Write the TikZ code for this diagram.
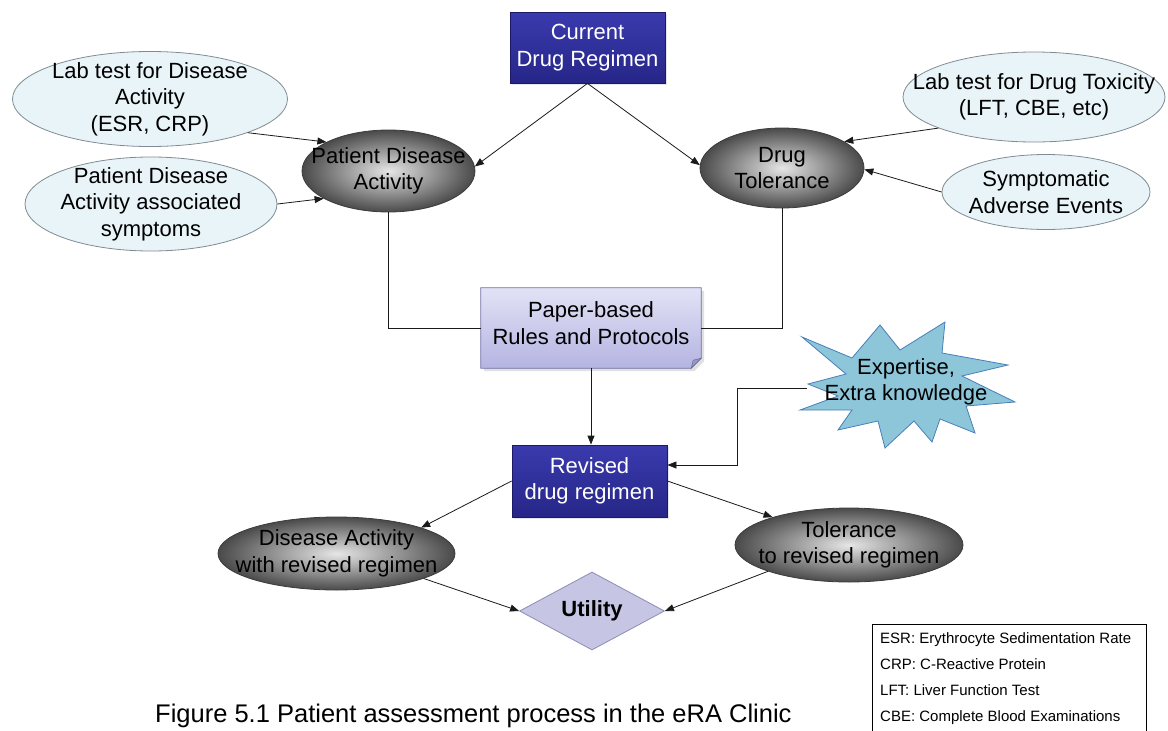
\documentclass[tikz,border=0pt]{standalone}
\usepackage{fontspec}
\setmainfont{Liberation Sans}
\usetikzlibrary{shapes.geometric,arrows.meta,shadows,backgrounds}

\definecolor{linecol}{HTML}{1A1A1A}
\definecolor{lightfill}{HTML}{E9F4F8}
\definecolor{lightedge}{HTML}{7F8C94}
\definecolor{grayedge}{HTML}{3C3C3C}
\definecolor{graylight}{HTML}{E6E6E6}
\definecolor{graydark}{HTML}{4A4A4A}
\definecolor{regtop}{HTML}{3A3AAE}
\definecolor{regbot}{HTML}{262688}
\definecolor{regedge}{HTML}{1A1A66}
\definecolor{papertop}{HTML}{E2E2F6}
\definecolor{paperbot}{HTML}{B4B4E2}
\definecolor{paperedge}{HTML}{6E6EA6}
\definecolor{starfill}{HTML}{8CC6D8}
\definecolor{staredge}{HTML}{4A7EBB}
\definecolor{utilfill}{HTML}{C6C6E4}
\definecolor{utiledge}{HTML}{8C8CB4}

\begin{document}
\begin{tikzpicture}[x=1pt,y=-1pt,
  txt/.style={font=\fontsize{22}{26.5}\selectfont, align=center, inner sep=0pt, text=black},
  lightell/.style={ellipse, draw=lightedge, fill=lightfill, line width=0.8pt, inner sep=0pt},
  grayell/.style={ellipse, draw=grayedge, line width=0.8pt, inner sep=0pt,
    shading=radial, inner color=graylight, outer color=graydark},
  regbox/.style={rectangle, draw=regedge, line width=0.8pt, top color=regtop, bottom color=regbot,
    text=white, font=\fontsize{22}{26.5}\selectfont, align=center, inner sep=0pt,
    minimum width=155pt, minimum height=71pt,
    drop shadow={opacity=0.2, shadow xshift=2pt, shadow yshift=-2pt}},
  conn/.style={draw=linecol, line width=0.8pt},
  arr/.style={conn, -{Triangle[length=9pt,width=7pt]}},
  legtxt/.style={font=\fontsize{15}{26}\selectfont, align=left, inner sep=0pt}
]
\useasboundingbox (0,0) rectangle (1168,731);
\clip (0,0) rectangle (1168,731);

% --- top row: current regimen and its inputs
\node[regbox] (cur) at (587.5,47.5) {Current\\Drug Regimen};

\node[lightell, minimum width=275pt, minimum height=95pt,
  label={[txt]center:{Lab test for Disease\\Activity\\(ESR, CRP)}}] (labd) at (150,99) {};
\node[lightell, minimum width=252pt, minimum height=94pt,
  label={[txt]center:{Patient Disease\\Activity associated\\symptoms}}] (sym) at (151,204) {};
\node[grayell, minimum width=173pt, minimum height=82pt,
  label={[txt]center:{Patient Disease\\Activity}}] (pda) at (388.5,171) {};
\node[grayell, minimum width=164pt, minimum height=80pt,
  label={[txt]center:{Drug\\Tolerance}}] (dt) at (782,168) {};
\node[lightell, minimum width=262pt, minimum height=90pt,
  label={[txt]center:{Lab test for Drug Toxicity\\(LFT, CBE, etc)}}] (labt) at (1034,97) {};
\node[lightell, minimum width=208pt, minimum height=75pt,
  label={[txt]center:{Symptomatic\\Adverse Events}}] (symp) at (1046,192) {};

% --- paper-based rules (note shape with folded corner)
\node[minimum width=220pt, minimum height=80pt, inner sep=0pt,
  label={[txt, yshift=5pt]center:{Paper-based\\Rules and Protocols}}] (paper) at (591,328) {};
\begin{scope}[on background layer]
  \fill[black, opacity=0.12] ([xshift=3pt,yshift=-3pt]paper.north west) -- ([xshift=3pt,yshift=-3pt]paper.north east)
    -- ([xshift=3pt,yshift=7pt]paper.south east) -- ([xshift=-7pt,yshift=-3pt]paper.south east)
    -- ([xshift=3pt,yshift=-3pt]paper.south west) -- cycle;
  \shade[top color=papertop, bottom color=paperbot, draw=paperedge, line width=0.8pt]
    (paper.north west) -- (paper.north east) -- ([yshift=10pt]paper.south east)
    -- ([xshift=-10pt]paper.south east) -- (paper.south west) -- cycle;
  \fill[paperedge!70, draw=paperedge, line width=0.6pt]
    ([yshift=10pt]paper.south east) -- ([xshift=-10pt]paper.south east)
    -- ([xshift=-8pt,yshift=8pt]paper.south east) -- cycle;
\end{scope}

% --- expertise burst
\filldraw[fill=starfill, draw=staredge, line width=0.8pt]
  (802,337) -- (852,358) -- (880,325) -- (900,350) -- (945,322) -- (942,353)
  -- (1008,365) -- (962,376) -- (1015,402) -- (966,406) -- (975,433) -- (940,419)
  -- (932,442) -- (914,421) -- (885,448) -- (878,421) -- (838,430) -- (852,410)
  -- (800,410) -- (838,396) -- (808,384) -- (846,374) -- cycle;
\node[txt] (exp) at (906,382) {Expertise,\\Extra knowledge};
\coordinate (expin) at (807,388);

% --- revised regimen and outcomes
\node[regbox, minimum height=72pt] (rev) at (589.5,481) {Revised\\drug regimen};

\node[grayell, minimum width=237pt, minimum height=73pt,
  label={[txt]center:{Disease Activity\\with revised regimen}}] (da) at (336.5,553.5) {};
\node[grayell, minimum width=228pt, minimum height=74pt,
  label={[txt]center:{Tolerance\\to revised regimen}}] (tol) at (849,545) {};
\node[diamond, draw=utiledge, fill=utilfill, line width=0.8pt, inner sep=0pt,
  minimum width=145pt, minimum height=78pt,
  label={[txt, font=\fontsize{22}{26.5}\selectfont\bfseries]center:{Utility}}] (util) at (592,611) {};

% --- connectors
\draw[arr] (cur.south) -- (pda.3);
\draw[arr] (cur.south) -- (dt.178);
\draw[arr] (labd.-19) -- (pda.155);
\draw[arr] (sym.0) -- (pda.-157);
\draw[arr] (labt.198) -- (dt.23);
\draw[arr] (symp.180) -- (dt.-1);
\draw[conn] (pda.south) |- (paper.west);
\draw[conn] (dt.south) |- (paper.east);
\draw[arr] (paper.south) -- (paper.south |- rev.north);
\draw[arr] (expin) -- ++(-70,0) |- ([yshift=16pt]rev.east);
\draw[arr] (rev.west) -- (da.17);
\draw[arr] (rev.east) -- (tol.160);
\draw[arr] (da.-16) -- (util.west);
\draw[arr] (tol.198) -- (util.east);

% --- abbreviations and caption
\node[draw=black, line width=0.8pt, anchor=north west, inner sep=0pt,
  minimum width=274pt, minimum height=140pt] (leg) at (872,624) {};
\node[legtxt, anchor=north west] (legtext) at ([shift={(8,8)}]leg.north west)
  {ESR: Erythrocyte Sedimentation Rate\\CRP: C-Reactive Protein\\LFT: Liver Function Test\\CBE: Complete Blood Examinations};
\node[font=\fontsize{25.5}{30}\selectfont, anchor=base west, inner sep=0pt] (cap) at (155,722)
  {Figure 5.1 Patient assessment process in the eRA Clinic};
\end{tikzpicture}
\end{document}
